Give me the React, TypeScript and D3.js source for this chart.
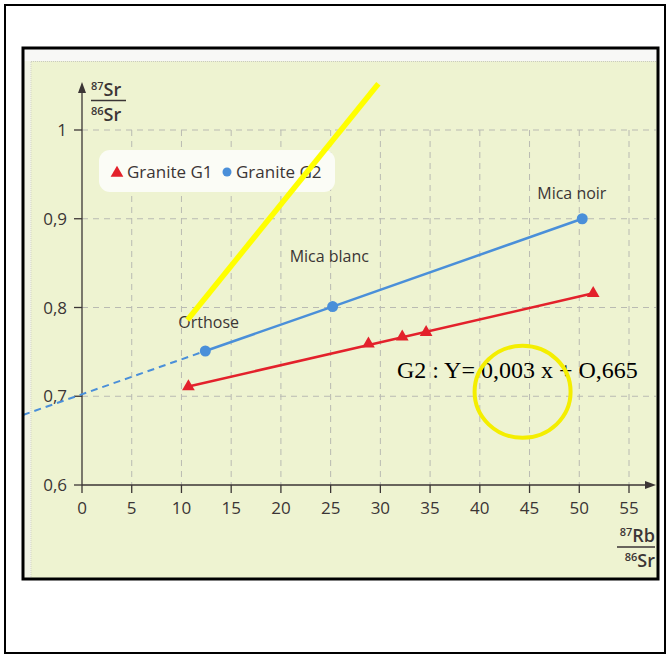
import React, { useRef, useEffect } from 'react';
import * as d3 from 'd3';

// axis ticks
const xTicks = [0, 5, 10, 15, 20, 25, 30, 35, 40, 45, 50, 55];
const yTicks = [0.6, 0.7, 0.8, 0.9, 1];
const yTickLabels = ['0,6', '0,7', '0,8', '0,9', '1'];

// Granite G1 (red triangles)
const g1Rb = [10.7, 28.8, 32.2, 34.6, 51.4];
const g1Sr = [0.711, 0.759, 0.767, 0.772, 0.816];

// Granite G2 (blue dots) + mineral names
const g2Rb = [12.4, 25.2, 50.3];
const g2Sr = [0.751, 0.801, 0.9];
const g2Minerals = ['Orthose', 'Mica blanc', 'Mica noir'];

const equation = 'G2 : Y= 0,003 x + O,665';

const FONT = "'Open Sans', 'Noto Sans', sans-serif";

const App = () => {
  const svgRef = useRef<SVGSVGElement>(null);

  useEffect(() => {
    const svg = d3.select(svgRef.current);
    svg.selectAll('*').remove();

    const x = d3.scaleLinear().domain([0, 55]).range([82, 629]);
    const y = d3.scaleLinear().domain([0.6, 1]).range([485, 130]);

    const red = '#e3212b';
    const blue = '#4a8fd9';
    const ink = '#3b3535';

    // page frame
    svg.append('rect').attr('x', 5).attr('y', 5).attr('width', 660).attr('height', 648)
      .attr('fill', 'white').attr('stroke', 'black').attr('stroke-width', 2);

    // scanned picture
    svg.append('rect').attr('x', 23).attr('y', 48).attr('width', 635).attr('height', 531)
      .attr('fill', '#eef3d1');
    svg.append('rect').attr('x', 24).attr('y', 49).attr('width', 633).attr('height', 12)
      .attr('fill', '#f8f8f6');
    svg.append('rect').attr('x', 24).attr('y', 61).attr('width', 7).attr('height', 517)
      .attr('fill', '#f2f4e6');
    svg.append('line').attr('x1', 31).attr('x2', 657).attr('y1', 61.5).attr('y2', 61.5)
      .attr('stroke', '#c9c9c2').attr('stroke-dasharray', '1,1');
    svg.append('line').attr('x1', 31).attr('x2', 31).attr('y1', 62).attr('y2', 578)
      .attr('stroke', '#d3d3c8').attr('stroke-dasharray', '1,1');

    // grid
    const grid = svg.append('g').attr('stroke', '#b9bab2').attr('stroke-width', 1)
      .attr('stroke-dasharray', '6,5');
    grid.selectAll('.gx').data(xTicks.slice(1)).enter().append('line')
      .attr('x1', d => x(d)).attr('x2', d => x(d))
      .attr('y1', y(1)).attr('y2', y(0.6));
    grid.selectAll('.gy').data(yTicks.slice(1)).enter().append('line')
      .attr('x1', x(0)).attr('x2', 656)
      .attr('y1', d => y(d)).attr('y2', d => y(d));

    // axes
    const axisG = svg.append('g').attr('stroke', ink).attr('stroke-width', 1.3);
    axisG.append('line').attr('x1', x(0)).attr('x2', 650).attr('y1', y(0.6)).attr('y2', y(0.6));
    axisG.append('line').attr('x1', x(0)).attr('x2', x(0)).attr('y1', y(0.6)).attr('y2', 88);
    svg.append('path').attr('d', `M656,${y(0.6)} L645,${y(0.6) - 4} L645,${y(0.6) + 4} Z`).attr('fill', ink);
    svg.append('path').attr('d', `M${x(0)},82 L${x(0) - 4},93 L${x(0) + 4},93 Z`).attr('fill', ink);

    axisG.selectAll('.tx').data(xTicks).enter().append('line')
      .attr('x1', d => x(d)).attr('x2', d => x(d))
      .attr('y1', y(0.6)).attr('y2', y(0.6) + 8);
    axisG.selectAll('.ty').data(yTicks).enter().append('line')
      .attr('x1', x(0) - 8).attr('x2', x(0))
      .attr('y1', d => y(d)).attr('y2', d => y(d));

    svg.selectAll('.xl').data(xTicks).enter().append('text')
      .attr('x', d => x(d)).attr('y', y(0.6) + 29)
      .attr('text-anchor', 'middle').attr('font-family', FONT).attr('font-size', 17)
      .attr('fill', ink).text(d => d);
    svg.selectAll('.yl').data(yTicks).enter().append('text')
      .attr('x', x(0) - 15).attr('y', d => y(d) + 6)
      .attr('text-anchor', 'end').attr('font-family', FONT).attr('font-size', 17)
      .attr('fill', ink).text((d, i) => yTickLabels[i]);

    // ratio labels
    const ratio = (cx: number, numBase: number, denBase: number, num: string, den: string, anchor: string) => {
      const g = svg.append('g').attr('font-family', FONT).attr('fill', ink).attr('font-weight', 600);
      const t1 = g.append('text').attr('x', cx).attr('y', numBase).attr('text-anchor', anchor);
      t1.append('tspan').attr('font-size', 11).attr('dy', -6).text(num.slice(0, 2));
      t1.append('tspan').attr('font-size', 18).attr('dy', 6).text(num.slice(2));
      const t2 = g.append('text').attr('x', cx).attr('y', denBase).attr('text-anchor', anchor);
      t2.append('tspan').attr('font-size', 11).attr('dy', -6).text(den.slice(0, 2));
      t2.append('tspan').attr('font-size', 18).attr('dy', 6).text(den.slice(2));
      return g;
    };
    const yl = ratio(91, 96, 121, '87Sr', '86Sr', 'start');
    yl.append('line').attr('x1', 91).attr('x2', 126).attr('y1', 100.5).attr('y2', 100.5)
      .attr('stroke', ink).attr('stroke-width', 1.5);
    const xl = ratio(655, 542, 567, '87Rb', '86Sr', 'end');
    xl.append('line').attr('x1', 617).attr('x2', 655).attr('y1', 547).attr('y2', 547)
      .attr('stroke', ink).attr('stroke-width', 1.5);

    // G2 line: dashed extrapolation back to the left edge, solid through the minerals
    const slope = (g2Sr[2] - g2Sr[0]) / (g2Rb[2] - g2Rb[0]);
    const xLeft = x.invert(23);
    const line = d3.line<[number, number]>().x(d => x(d[0])).y(d => y(d[1]));
    svg.append('path')
      .attr('d', line([[xLeft, g2Sr[0] + slope * (xLeft - g2Rb[0])], [g2Rb[0], g2Sr[0]]]))
      .attr('fill', 'none').attr('stroke', blue).attr('stroke-width', 2).attr('stroke-dasharray', '7,5');
    svg.append('path')
      .attr('d', line(g2Rb.map((d, i) => [d, g2Sr[i]] as [number, number])))
      .attr('fill', 'none').attr('stroke', blue).attr('stroke-width', 2.5);
    svg.append('path')
      .attr('d', line([[g1Rb[0], g1Sr[0]], [g1Rb[g1Rb.length - 1], g1Sr[g1Sr.length - 1]]]))
      .attr('fill', 'none').attr('stroke', red).attr('stroke-width', 2.5);

    const tri = d3.symbol().type(d3.symbolTriangle).size(70);
    svg.selectAll('.g1').data(g1Rb).enter().append('path')
      .attr('d', tri())
      .attr('transform', (d, i) => `translate(${x(d)},${y(g1Sr[i])})`)
      .attr('fill', red);
    svg.selectAll('.g2').data(g2Rb).enter().append('circle')
      .attr('cx', d => x(d)).attr('cy', (d, i) => y(g2Sr[i])).attr('r', 5.5)
      .attr('fill', blue);

    // mineral labels
    const labelOffsets = [[-27, -23], [-43, -45], [-45, -20]];
    svg.selectAll('.ml').data(g2Minerals).enter().append('text')
      .attr('x', (d, i) => x(g2Rb[i]) + labelOffsets[i][0])
      .attr('y', (d, i) => y(g2Sr[i]) + labelOffsets[i][1])
      .attr('font-family', FONT).attr('font-size', 16).attr('fill', ink).text(d => d);

    // legend
    svg.append('rect').attr('x', 99).attr('y', 150).attr('width', 236).attr('height', 42)
      .attr('rx', 11).attr('fill', '#fbfcf6');
    svg.append('path').attr('d', tri()).attr('transform', 'translate(117,173)').attr('fill', red);
    svg.append('text').attr('x', 127).attr('y', 178).attr('font-family', FONT).attr('font-size', 17)
      .attr('fill', ink).text('Granite G1');
    svg.append('circle').attr('cx', 227).attr('cy', 172).attr('r', 4.5).attr('fill', blue);
    svg.append('text').attr('x', 236).attr('y', 178).attr('font-family', FONT).attr('font-size', 17)
      .attr('fill', ink).text('Granite G2');

    // equation written on the copy
    svg.append('text').attr('x', 397).attr('y', 378)
      .attr('font-family', "'Liberation Serif', 'DejaVu Serif', serif").attr('font-size', 24)
      .attr('fill', 'black').text(equation);

    // yellow marks on the copy
    svg.append('line')
      .attr('x1', x(29.8)).attr('y1', y(1.052)).attr('x2', x(10.6)).attr('y2', y(0.786))
      .attr('stroke', '#ffff00').attr('stroke-width', 5.5);
    svg.append('ellipse').attr('cx', x(44.3)).attr('cy', y(0.705)).attr('rx', 48).attr('ry', 46)
      .attr('fill', 'none').attr('stroke', '#f4ee00').attr('stroke-width', 4);

    // inner frame border
    svg.append('rect').attr('x', 23).attr('y', 48).attr('width', 635).attr('height', 531)
      .attr('fill', 'none').attr('stroke', 'black').attr('stroke-width', 3);
  }, []);

  return (
    <svg ref={svgRef} width={669} height={655}
      style={{ position: 'absolute', left: 0, top: 0, background: 'white' }} />
  );
};

export default App;
